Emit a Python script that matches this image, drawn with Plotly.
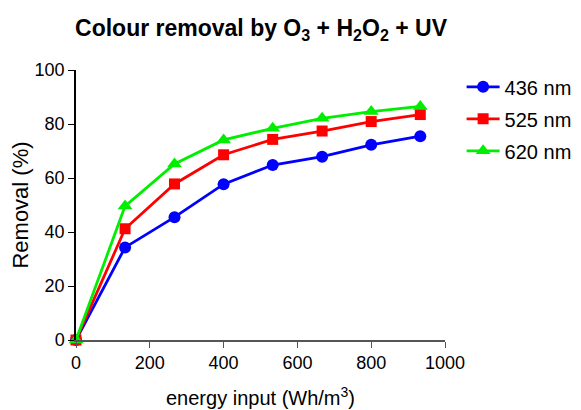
import plotly.graph_objects as go

energy = [0, 133, 267, 400, 533, 667, 800, 933]
r436 = [0, 34.3, 45.5, 57.7, 64.8, 67.9, 72.3, 75.5]
r525 = [0, 41.2, 57.8, 68.6, 74.3, 77.4, 80.9, 83.5]
r620 = [0, 49.6, 65.2, 74.1, 78.4, 82.1, 84.6, 86.5]

series = [
    ("436 nm", r436, "#0000ff", "circle", 12),
    ("525 nm", r525, "#ff0000", "square", 11),
    ("620 nm", r620, "#00ee00", "triangle-up", 13),
]

fig = go.Figure()
for name, ys, col, sym, sz in series:
    fig.add_trace(go.Scatter(
        x=energy, y=ys, name=name, mode="lines+markers",
        line=dict(color=col, width=2.8),
        marker=dict(color=col, symbol=sym, size=sz),
        cliponaxis=False, legendgroup=name,
    ))

font = "Liberation Sans, Arial, sans-serif"
fig.update_layout(
    width=581, height=410,
    margin=dict(l=68, r=144, t=62, b=78),
    paper_bgcolor="white", plot_bgcolor="white",
    font=dict(family=font, size=18, color="black"),
    title=dict(text="<b>Colour removal by O<sub>3</sub> + H<sub>2</sub>O<sub>2</sub> + UV</b>",
               x=0.4355, xanchor="center", y=0.951, yanchor="middle",
               font=dict(size=23, family=font)),
    legend=dict(x=1.045, y=1.01, xanchor="left", yanchor="top",
                font=dict(size=20), tracegroupgap=3, itemwidth=33,
                borderwidth=0, bgcolor="rgba(0,0,0,0)"),
    showlegend=True,
)
fig.update_xaxes(range=[0, 1000], tickvals=[0, 200, 400, 600, 800, 1000],
                 showgrid=False, zeroline=False, showline=True, linecolor="#555",
                 linewidth=1.5, ticks="outside", ticklen=6, tickcolor="#555",
                 automargin=False,
                 title=dict(text="energy input (Wh/m<sup>3</sup>)", font=dict(size=20), standoff=19))
fig.update_yaxes(range=[0, 100], tickvals=[0, 20, 40, 60, 80, 100],
                 showgrid=False, zeroline=False, showline=True, linecolor="black",
                 linewidth=1.5, ticks="outside", ticklen=6, tickcolor="black",
                 automargin=False,
                 title=dict(text="Removal (%)", font=dict(size=22), standoff=8))

fig.write_html("out.html")
